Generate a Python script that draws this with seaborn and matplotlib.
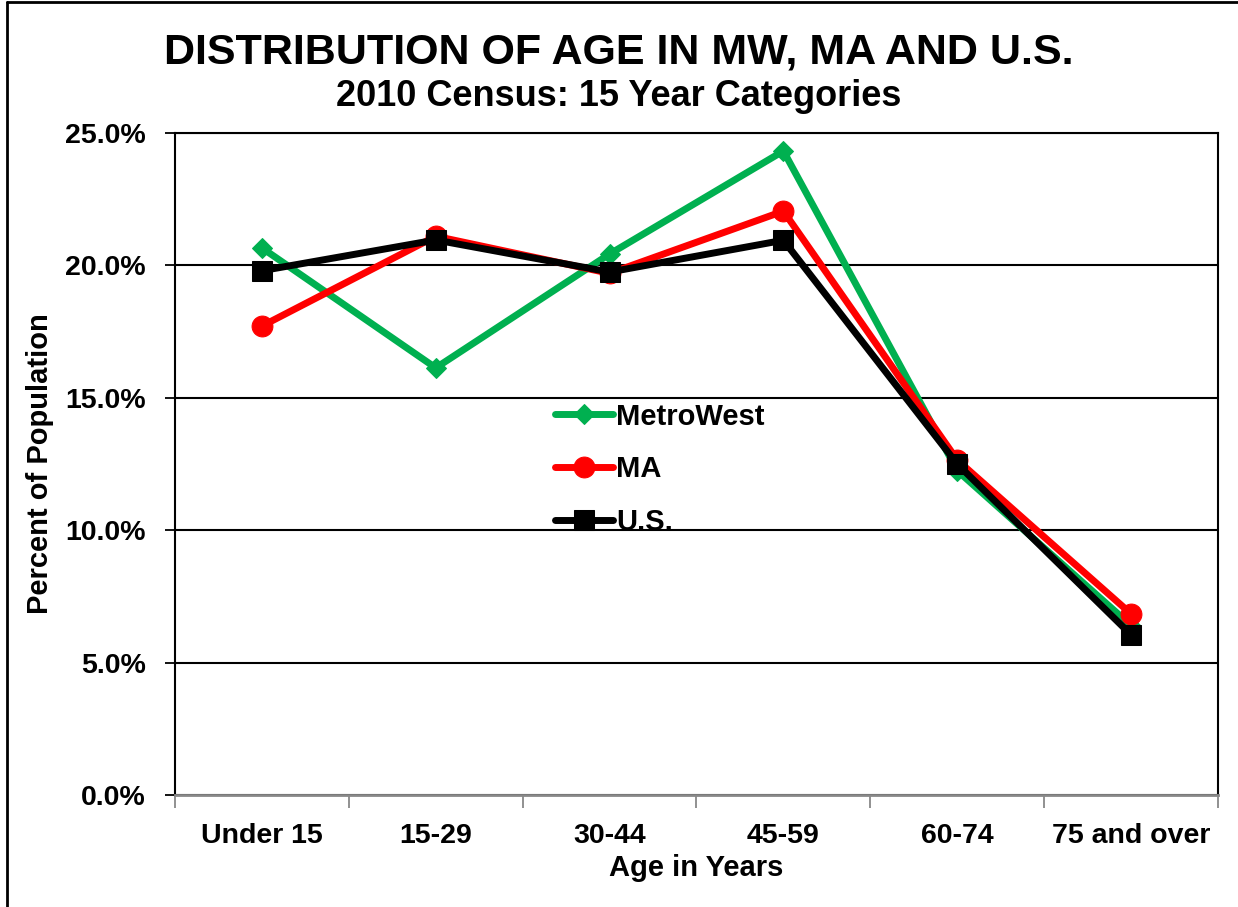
import pandas as pd
import numpy as np
import matplotlib
matplotlib.use('Agg')
import matplotlib.pyplot as plt
from matplotlib.ticker import FuncFormatter
import seaborn as sns

# Age categories and share of population (%), 2010 Census
categorias = ['Under 15', '15-29', '30-44', '45-59', '60-74', '75 and over']
metrowest = [20.66, 16.13, 20.43, 24.32, 12.25, 6.4]
ma = [17.71, 21.1, 19.7, 22.05, 12.65, 6.84]
us = [19.8, 20.96, 19.75, 20.95, 12.5, 6.05]

sns.set_style('white')
plt.rcParams['font.family'] = ['Liberation Sans', 'DejaVu Sans']
plt.rcParams['text.color'] = 'black'
plt.rcParams['axes.labelcolor'] = 'black'
plt.rcParams['xtick.color'] = 'black'
plt.rcParams['ytick.color'] = 'black'

fig = plt.figure(figsize=(12.38, 9.07), dpi=100)
ax = fig.add_axes([175/1238, 1-795/907, (1218-175)/1238, (795-133)/907])

x = np.arange(len(categorias))
series = [('MetroWest', metrowest, '#00b050', 'D', 10),
          ('MA', ma, '#ff0000', 'o', 15),
          ('U.S.', us, '#000000', 's', 14)]
for nome, vals, cor, marc, ms in series:
    sns.lineplot(x=x, y=vals, ax=ax, color=cor, marker=marc, markersize=ms,
                 markeredgecolor=cor, linewidth=5, label=nome)

ax.set_xlim(-0.5, len(categorias) - 0.5)
ax.set_ylim(0, 25)
ax.set_yticks(np.arange(0, 25.1, 5))
ax.yaxis.set_major_formatter(FuncFormatter(lambda v, p: f'{v:.1f}%'))
ax.yaxis.grid(True, color='black', linewidth=1.5)
ax.set_xticks(x)
ax.set_xticklabels(categorias)
ax.set_xticks(np.arange(-0.5, len(categorias)), minor=True)
ax.tick_params(which='both', bottom=True, left=True)
ax.tick_params(axis='x', which='major', length=0, pad=20, labelsize=20.5)
ax.tick_params(axis='x', which='minor', length=9, width=1.3, direction='out', color='#888888')
ax.tick_params(axis='y', length=7, width=1.3, direction='out', labelsize=20.5, pad=14, color='black')
for lab in ax.get_xticklabels() + ax.get_yticklabels():
    lab.set_fontweight('bold')
ax.set_axisbelow(True)
for s in ax.spines.values():
    s.set_color('black')
    s.set_linewidth(1.5)
ax.spines['bottom'].set_color('#888888')
ax.spines['bottom'].set_linewidth(2)

ax.set_xlabel('Age in Years', fontsize=21, fontweight='bold', labelpad=4)
ax.set_ylabel('Percent of Population', fontsize=21, fontweight='bold', labelpad=8)

leg = ax.legend(loc='upper left', bbox_to_anchor=(368/1043, 1-(391-133)/662), frameon=False,
                fontsize=21, handlelength=2.0, handletextpad=0.1, labelspacing=0.85,
                borderaxespad=0)
for t in leg.get_texts():
    t.set_fontweight('bold')

fig.text(0.5, 1-52/907, 'DISTRIBUTION OF AGE IN MW, MA AND U.S.', ha='center', va='center',
         fontsize=31, fontweight='bold', family=['Liberation Sans Narrow', 'Liberation Sans', 'DejaVu Sans'])
fig.text(0.5, 1-97/907, '2010 Census: 15 Year Categories', ha='center', va='center',
         fontsize=26, fontweight='bold', family=['Liberation Sans Narrow', 'Liberation Sans', 'DejaVu Sans'])

# outer chart border (only left and top visible in the crop)
fig.add_artist(plt.Line2D([7/1238, 7/1238], [0, 1-2/907], transform=fig.transFigure, color='black', linewidth=2))
fig.add_artist(plt.Line2D([7/1238, 1], [1-2/907, 1-2/907], transform=fig.transFigure, color='black', linewidth=2))

fig.savefig('out.png', dpi=100)
